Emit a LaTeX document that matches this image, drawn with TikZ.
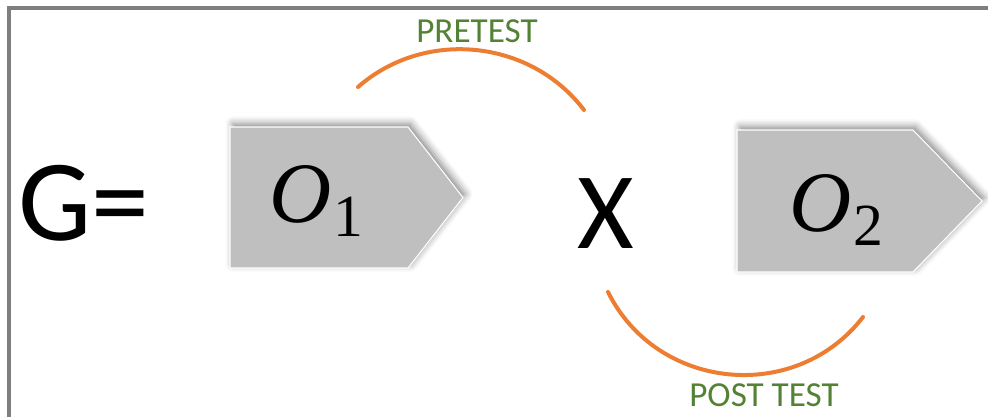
\RequirePackage{fix-cm}
\documentclass[tikz,border=0pt]{standalone}
\usepackage[no-math]{fontspec}
\setmainfont{Carlito}
\newfontfamily\obsfont{Liberation Serif}
\usepackage{xcolor}
\usetikzlibrary{shadows.blur}

\definecolor{tagfill}{HTML}{BFBFBF}
\definecolor{arcorange}{HTML}{ED7D31}
\definecolor{labelgreen}{HTML}{548235}
\definecolor{framegray}{HTML}{7F7F7F}

% observation symbol with subscript
\newcommand{\obs}[1]{{\fontsize{49}{52}\obsfont\itshape O}\kern1pt\raisebox{-8.5pt}{\fontsize{34}{36}\obsfont #1}}

\begin{document}
\begin{tikzpicture}[x=0.02cm, y=0.02cm,
    tag/.style={fill=tagfill, draw=white, line width=0.6pt,
        blur shadow={shadow xshift=1.5pt, shadow yshift=2pt, shadow blur radius=4pt, shadow opacity=45}},
    arcline/.style={draw=arcorange, line width=0.08cm, line cap=round},
    lbl/.style={text=labelgreen, font=\fontsize{20}{24}\selectfont, inner sep=0pt}]
    \useasboundingbox (0,0) rectangle (988,417);

    % Frame
    \draw[framegray, line width=0.08cm] (9,0) -- (9,409) -- (988,409);

    % Group
    \node[anchor=base west, inner sep=0pt, font=\fontsize{66}{70}\selectfont] (g) at (18,177) {G=};

    % Observation tags
    \path[tag] (230,290) -- (408,290) -- (463,219.5) -- (408,149) -- (230,149) -- cycle;
    \path[tag] (737,287) -- (913,287) -- (982,216) -- (913,145) -- (737,145) -- cycle;
    \node[anchor=base, inner sep=0pt] (o1) at (316,195) {\obs{1}};
    \node[anchor=base, inner sep=0pt] (o2) at (836,186) {\obs{2}};

    % Treatment
    \node[anchor=base, inner sep=0pt, font=\fontsize{62}{66}\selectfont] (x) at (606,169) {X};

    % Pretest and post test arcs
    \coordinate (pre a) at (358,330);
    \coordinate (pre b) at (584,307);
    \coordinate (post a) at (608,125);
    \coordinate (post b) at (863,100);
    \draw[arcline] (pre a) to[bend left=47] (pre b);
    \draw[arcline] (post a) to[bend right=58, looseness=1.1] (post b);
    \node[lbl, anchor=base] (pre) at (477,375) {PRETEST};
    \node[lbl, anchor=base] (post) at (764,11) {POST TEST};
\end{tikzpicture}
\end{document}
